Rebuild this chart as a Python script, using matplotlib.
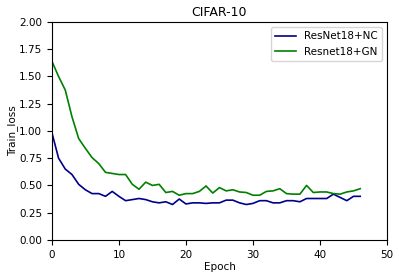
import matplotlib
matplotlib.use('Agg')
import matplotlib.pyplot as plt

epochs = list(range(47))
nc_loss = [0.985, 0.75, 0.65, 0.60, 0.51, 0.46, 0.425, 0.425, 0.40, 0.445,
           0.40, 0.36, 0.37, 0.38, 0.37, 0.35, 0.34, 0.35, 0.325, 0.375,
           0.33, 0.34, 0.34, 0.335, 0.34, 0.34, 0.365, 0.365, 0.34, 0.325,
           0.335, 0.36, 0.36, 0.34, 0.34, 0.36, 0.36, 0.35, 0.38, 0.38,
           0.38, 0.38, 0.42, 0.39, 0.36, 0.40, 0.40]
gn_loss = [1.64, 1.50, 1.375, 1.13, 0.93, 0.84, 0.755, 0.70, 0.62, 0.61,
           0.60, 0.60, 0.51, 0.465, 0.53, 0.50, 0.51, 0.435, 0.445, 0.41,
           0.425, 0.425, 0.445, 0.495, 0.43, 0.48, 0.45, 0.46, 0.44, 0.435,
           0.41, 0.41, 0.445, 0.45, 0.47, 0.425, 0.42, 0.42, 0.50, 0.435,
           0.44, 0.44, 0.425, 0.42, 0.44, 0.45, 0.47]

plt.rcParams['font.size'] = 7.5
fig = plt.figure(figsize=(3.99, 2.78), dpi=100)
ax = fig.add_axes([0.130, 0.137, 0.840, 0.784])

ax.plot(epochs, nc_loss, color='darkblue', linewidth=1.2, label='ResNet18+NC')
ax.plot(epochs, gn_loss, color='green', linewidth=1.2, label='Resnet18+GN')
ax.set_xlim(0, 50)
ax.set_ylim(0, 2.0)
ax.set_yticks([0, 0.25, 0.5, 0.75, 1.0, 1.25, 1.5, 1.75, 2.0])
ax.set_xlabel('Epoch', labelpad=1.5)
ax.set_ylabel('Train_loss', labelpad=0.5)
ax.set_title('CIFAR-10', fontsize=9, pad=4)
ax.legend(loc='upper right')

fig.savefig('out.png', dpi=100)
